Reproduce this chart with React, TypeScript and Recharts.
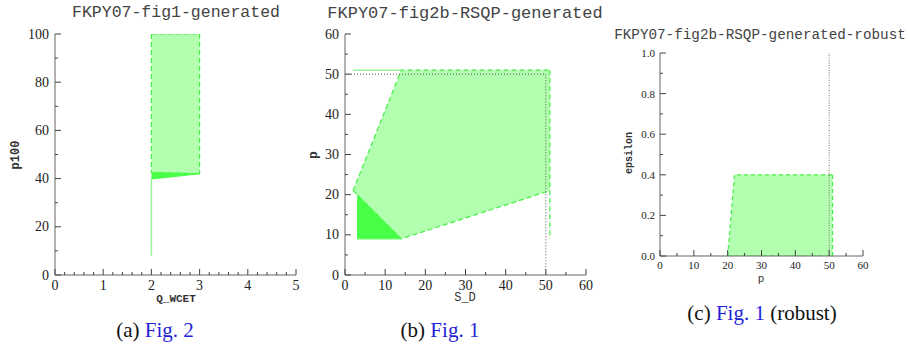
import React from 'react';
import { ComposedChart, XAxis, YAxis, Area, Line } from 'recharts';

// ---------- (a) FKPY07-fig1-generated ----------
const aXTicks = [0, 0.2, 0.4, 0.6, 0.8, 1, 1.2, 1.4, 1.6, 1.8, 2, 2.2, 2.4, 2.6, 2.8, 3, 3.2, 3.4, 3.6, 3.8, 4, 4.2, 4.4, 4.6, 4.8, 5];
const aXMajor = [0, 1, 2, 3, 4, 5];
const aYTicks = [0, 10, 20, 30, 40, 50, 60, 70, 80, 90, 100];
const aYMajor = [0, 20, 40, 60, 80, 100];
const aRegion = [{ x: 2, y: [42.5, 100] }, { x: 3, y: [42, 100] }];
const aSliver = [{ x: 2, y: [39.8, 42.5] }, { x: 3, y: [42, 42] }];
const aStem = [{ x: 2, y: 8 }, { x: 2, y: 40 }];
const aLeftEdge = [{ x: 2, y: 100 }, { x: 2, y: 42.5 }];
const aRightEdge = [{ x: 3, y: 100 }, { x: 3, y: 42 }];

// ---------- (b) FKPY07-fig2b-RSQP-generated ----------
const bXTicks = [0, 5, 10, 15, 20, 25, 30, 35, 40, 45, 50, 55, 60];
const bXMajor = [0, 10, 20, 30, 40, 50, 60];
const bYTicks = [0, 5, 10, 15, 20, 25, 30, 35, 40, 45, 50, 55, 60];
const bYMajor = [0, 10, 20, 30, 40, 50, 60];
const bRegion = [{ x: 2, y: [21, 21] }, { x: 14, y: [9, 51] }, { x: 51, y: [21, 51] }];
const bCore = [{ x: 3, y: [9, 20] }, { x: 14, y: [9, 9] }];
const bTopLine = [{ x: 2, y: 51 }, { x: 14, y: 51 }];
const bRightEdge = [{ x: 51, y: 51 }, { x: 51, y: 9 }];
const bGuide = [{ x: 0, y: 50 }, { x: 50, y: 50 }, { x: 50, y: 0 }];

// ---------- (c) FKPY07-fig2b-RSQP-generated-robust ----------
const cXTicks = [0, 5, 10, 15, 20, 25, 30, 35, 40, 45, 50, 55, 60];
const cXMajor = [0, 10, 20, 30, 40, 50, 60];
const cYTicks = [0, 0.1, 0.2, 0.3, 0.4, 0.5, 0.6, 0.7, 0.8, 0.9, 1.0];
const cYMajor = [0, 0.2, 0.4, 0.6, 0.8, 1.0];
const cRegion = [{ x: 20, y: [0, 0] }, { x: 22, y: [0, 0.4] }, { x: 51, y: [0, 0.4] }];
const cRightEdge = [{ x: 51, y: 0 }, { x: 51, y: 0.4 }];
const cBase = [{ x: 10, y: 0 }, { x: 20, y: 0 }];
const cGuide = [{ x: 50, y: 0 }, { x: 50, y: 1 }];

const LIGHT = '#b3ffb0';
const DARK = '#48ff48';
const EDGE = '#44ee44';
const FRAME = '#666666';
const TICKC = '#444444';
const SERIF = '"Liberation Serif", "DejaVu Serif", serif';
const MONO = '"Liberation Mono", "DejaVu Sans Mono", monospace';

type Side = 'bottom' | 'top' | 'left' | 'right';

const isIn = (list: number[], v: number) => list.some((m) => Math.abs(m - v) < 1e-9);

const mkTick = (side: Side, majors: number[], labels: boolean, fontSize: number, fmt: (v: number) => string, gap: number) =>
  (props: any) => {
    const { x, y, payload } = props;
    const v = payload.value;
    const major = isIn(majors, v);
    const len = major ? 6 : 3;
    let line: any = null;
    let label: any = null;
    const ts: React.CSSProperties = { fontFamily: SERIF, fontSize };
    if (side === 'bottom') {
      line = <line x1={x} x2={x} y1={y} y2={y - len} stroke={TICKC} />;
      if (labels && major)
        label = (
          <text x={x} y={y + gap} textAnchor="middle" dominantBaseline="central" style={ts} fill="#222">
            {fmt(v)}
          </text>
        );
    } else if (side === 'top') {
      line = <line x1={x} x2={x} y1={y} y2={y + len} stroke={TICKC} />;
    } else if (side === 'left') {
      line = <line x1={x} x2={x + len} y1={y} y2={y} stroke={TICKC} />;
      if (labels && major)
        label = (
          <text x={x - gap} y={y} textAnchor="end" dominantBaseline="central" style={ts} fill="#222">
            {fmt(v)}
          </text>
        );
    } else {
      line = <line x1={x} x2={x - len} y1={y} y2={y} stroke={TICKC} />;
    }
    return (
      <g>
        {line}
        {label}
      </g>
    );
  };

const intFmt = (v: number) => String(Math.round(v));
const decFmt = (v: number) => v.toFixed(1);

type FrameProps = {
  xDomain: [number, number];
  yDomain: [number, number];
  xTicks: number[];
  xMajor: number[];
  yTicks: number[];
  yMajor: number[];
  fontSize: number;
  xFmt: (v: number) => string;
  yFmt: (v: number) => string;
  xGap: number;
  yGap: number;
};

const frameAxes = (f: FrameProps) => [
  <XAxis
    key="xb"
    xAxisId="b"
    type="number"
    dataKey="x"
    orientation="bottom"
    domain={f.xDomain}
    ticks={f.xTicks}
    interval={0}
    allowDataOverflow
    height={25}
    tickSize={0}
    tickMargin={0}
    tickLine={false}
    axisLine={{ stroke: FRAME }}
    tick={mkTick('bottom', f.xMajor, true, f.fontSize, f.xFmt, f.xGap)}
  />,
  <XAxis
    key="xt"
    xAxisId="t"
    type="number"
    dataKey="x"
    orientation="top"
    domain={f.xDomain}
    ticks={f.xTicks}
    interval={0}
    allowDataOverflow
    height={0}
    tickSize={0}
    tickMargin={0}
    tickLine={false}
    axisLine={{ stroke: FRAME }}
    tick={mkTick('top', f.xMajor, false, f.fontSize, f.xFmt, 0)}
  />,
  <YAxis
    key="yl"
    yAxisId="l"
    type="number"
    orientation="left"
    domain={f.yDomain}
    ticks={f.yTicks}
    interval={0}
    allowDataOverflow
    width={40}
    tickSize={0}
    tickMargin={0}
    tickLine={false}
    axisLine={{ stroke: FRAME }}
    tick={mkTick('left', f.yMajor, true, f.fontSize, f.yFmt, f.yGap)}
  />,
  <YAxis
    key="yr"
    yAxisId="r"
    type="number"
    orientation="right"
    domain={f.yDomain}
    ticks={f.yTicks}
    interval={0}
    allowDataOverflow
    width={0}
    tickSize={0}
    tickMargin={0}
    tickLine={false}
    axisLine={{ stroke: FRAME }}
    tick={mkTick('right', f.yMajor, false, f.fontSize, f.yFmt, 0)}
  />,
];

const areaProps = { xAxisId: 'b', yAxisId: 'l', dataKey: 'y', type: 'linear' as const, isAnimationActive: false, dot: false, activeDot: false };
const lineProps = { xAxisId: 'b', yAxisId: 'l', dataKey: 'y', type: 'linear' as const, isAnimationActive: false, dot: false, activeDot: false };

const abs = (left: number, top: number, style: React.CSSProperties = {}): React.CSSProperties => ({
  position: 'absolute',
  left,
  top,
  transform: 'translate(-50%, -50%)',
  whiteSpace: 'nowrap',
  lineHeight: 1,
  ...style,
});

const rot = (left: number, top: number, style: React.CSSProperties = {}): React.CSSProperties => ({
  ...abs(left, top, style),
  transform: 'translate(-50%, -50%) rotate(-90deg)',
});

export default function App() {
  return (
    <div style={{ position: 'absolute', left: 0, top: 0, width: 908, height: 353, background: '#fff', overflow: 'hidden' }}>
      {/* (a) */}
      <div style={{ position: 'absolute', left: 0, top: 0 }}>
        <ComposedChart width={310} height={300} margin={{ top: 34, left: 15, right: 14, bottom: 0 }}>
          {frameAxes({
            xDomain: [0, 5], yDomain: [0, 100], xTicks: aXTicks, xMajor: aXMajor, yTicks: aYTicks, yMajor: aYMajor,
            fontSize: 14, xFmt: intFmt, yFmt: intFmt, xGap: 10, yGap: 6,
          })}
          <Area {...areaProps} data={aRegion} fill={LIGHT} fillOpacity={1} stroke={EDGE} strokeDasharray="5 3" strokeWidth={1.2} />
          <Area {...areaProps} data={aSliver} fill={DARK} fillOpacity={1} stroke={DARK} strokeWidth={1} />
          <Line {...lineProps} data={aStem} stroke="#99f599" strokeWidth={1.5} />
          <Line {...lineProps} data={aLeftEdge} stroke={EDGE} strokeDasharray="5 3" strokeWidth={1.2} />
          <Line {...lineProps} data={aRightEdge} stroke={EDGE} strokeDasharray="5 3" strokeWidth={1.2} />
        </ComposedChart>
      </div>

      {/* (b) */}
      <div style={{ position: 'absolute', left: 300, top: 0 }}>
        <ComposedChart width={310} height={300} margin={{ top: 34, left: 5, right: 24, bottom: 0 }}>
          {frameAxes({
            xDomain: [0, 60], yDomain: [0, 60], xTicks: bXTicks, xMajor: bXMajor, yTicks: bYTicks, yMajor: bYMajor,
            fontSize: 14, xFmt: intFmt, yFmt: intFmt, xGap: 10, yGap: 6,
          })}
          <Area {...areaProps} data={bRegion} fill={LIGHT} fillOpacity={1} stroke={EDGE} strokeDasharray="5 3" strokeWidth={1.2} />
          <Area {...areaProps} data={bCore} fill={DARK} fillOpacity={1} stroke={DARK} strokeWidth={1} />
          <Line {...lineProps} data={bTopLine} stroke="#99f599" strokeWidth={1.5} />
          <Line {...lineProps} data={bRightEdge} stroke={EDGE} strokeDasharray="5 3" strokeWidth={1.2} />
          <Line {...lineProps} data={bGuide} stroke="#555" strokeDasharray="1 2" strokeWidth={1} />
        </ComposedChart>
      </div>

      {/* (c) */}
      <div style={{ position: 'absolute', left: 600, top: 20 }}>
        <ComposedChart width={308} height={280} margin={{ top: 33, left: 20, right: 45, bottom: 19 }}>
          {frameAxes({
            xDomain: [0, 60], yDomain: [0, 1], xTicks: cXTicks, xMajor: cXMajor, yTicks: cYTicks, yMajor: cYMajor,
            fontSize: 11, xFmt: intFmt, yFmt: decFmt, xGap: 9, yGap: 5,
          })}
          <Area {...areaProps} data={cRegion} fill={LIGHT} fillOpacity={1} stroke={EDGE} strokeDasharray="4 3" strokeWidth={1.2} />
          <Line {...lineProps} data={cBase} stroke="#99f599" strokeDasharray="2 2" strokeWidth={1.2} />
          <Line {...lineProps} data={cRightEdge} stroke={EDGE} strokeDasharray="4 3" strokeWidth={1.2} />
          <Line {...lineProps} data={cGuide} stroke="#777" strokeDasharray="1 1.5" strokeWidth={1} />
        </ComposedChart>
      </div>

      {/* titles */}
      <div style={abs(176, 13, { fontFamily: MONO, fontSize: 16.5, color: '#444' })}>FKPY07-fig1-generated</div>
      <div style={abs(465, 13, { fontFamily: MONO, fontSize: 17, color: '#444' })}>FKPY07-fig2b-RSQP-generated</div>
      <div style={abs(760, 35, { fontFamily: MONO, fontSize: 14.3, color: '#444' })}>FKPY07-fig2b-RSQP-generated-robust</div>

      {/* axis labels */}
      <div style={rot(16, 155, { fontFamily: MONO, fontSize: 12, fontWeight: 'bold', color: '#333' })}>p100</div>
      <div style={abs(176, 299, { fontFamily: MONO, fontSize: 11, fontWeight: 'bold', color: '#333' })}>Q_WCET</div>
      <div style={rot(313, 155, { fontFamily: MONO, fontSize: 13, fontWeight: 'bold', color: '#333' })}>p</div>
      <div style={abs(465, 298, { fontFamily: MONO, fontSize: 12, color: '#333' })}>S_D</div>
      <div style={rot(630, 153, { fontFamily: MONO, fontSize: 10, fontWeight: 'bold', color: '#333' })}>epsilon</div>
      <div style={abs(761, 279, { fontFamily: MONO, fontSize: 11, color: '#333' })}>p</div>

      {/* captions */}
      <div style={abs(155, 330, { fontFamily: SERIF, fontSize: 21, color: '#111' })}>
        (a) <span style={{ color: '#1f1fd6' }}>Fig. 2</span>
      </div>
      <div style={abs(440, 330, { fontFamily: SERIF, fontSize: 21, color: '#111' })}>
        (b) <span style={{ color: '#1f1fd6' }}>Fig. 1</span>
      </div>
      <div style={abs(762, 313, { fontFamily: SERIF, fontSize: 21, color: '#111' })}>
        (c) <span style={{ color: '#1f1fd6' }}>Fig. 1</span> (robust)
      </div>
    </div>
  );
}
